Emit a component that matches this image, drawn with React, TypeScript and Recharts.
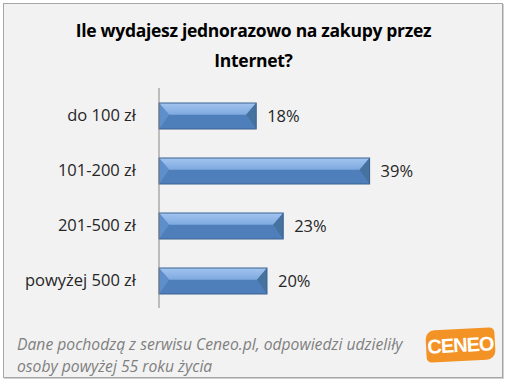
import { BarChart, Bar, XAxis, YAxis, LabelList } from "recharts";

const categories = ["do 100 zł", "101-200 zł", "201-500 zł", "powyżej 500 zł"];
const shares = [18, 39, 23, 20];

const title = ["Ile wydajesz jednorazowo na zakupy przez", "Internet?"];
const note = [
  "Dane pochodzą z serwisu Ceneo.pl, odpowiedzi udzieliły",
  "osoby powyżej 55 roku życia",
];

const data = categories.map((name, i) => ({ name, value: shares[i] }));

const FONT = "'Open Sans', 'DejaVu Sans', sans-serif";

// bevelled bar like the Excel original
function BevelBar(props: any) {
  const { x, y, width, height } = props;
  if (!width || width <= 0) return null;
  const b = Math.min(10, width / 2);
  const mid = y + height * 0.45;
  return (
    <g>
      <rect x={x} y={y} width={width} height={height} fill="#4f7fbb" />
      <polygon
        points={`${x},${y} ${x + width},${y} ${x + width - b},${mid} ${x + b},${mid}`}
        fill="url(#barTop)"
      />
      <polygon points={`${x},${y} ${x + b},${mid} ${x},${y + height}`} fill="#5f8fcb" />
      <polygon
        points={`${x + width},${y} ${x + width - b},${mid} ${x + width},${y + height}`}
        fill="#46729f"
      />
      <rect
        x={x}
        y={y}
        width={width}
        height={height}
        fill="none"
        stroke="#3a6292"
        strokeWidth={1}
      />
    </g>
  );
}

export default function App() {
  return (
    <div style={{ position: "fixed", left: 0, top: 0, width: 507, height: 382, background: "#ffffff" }}>
      {/* frame */}
      <div
        style={{
          position: "absolute",
          left: 3,
          top: 3,
          width: 498,
          height: 373,
          background: "#f2f2f2",
          border: "1px solid #a6a6a6",
          boxShadow: "1px 1px 0 #d0d0d0",
        }}
      />
      {/* title */}
      <div
        style={{
          position: "absolute",
          left: 0,
          top: 15,
          width: 507,
          textAlign: "center",
          fontFamily: FONT,
          fontWeight: 700,
          fontSize: 17.5,
          lineHeight: "30px",
          letterSpacing: -0.3,
          color: "#000000",
        }}
      >
        {title.map((t) => (
          <div key={t}>{t}</div>
        ))}
      </div>

      <div style={{ position: "absolute", left: 0, top: 0 }}>
        <BarChart
          width={507}
          height={382}
          data={data}
          layout="vertical"
          margin={{ top: 88, right: 132, bottom: 74, left: 0 }}
          barSize={26}
        >
          <defs>
            <linearGradient id="barTop" x1="0" y1="0" x2="0" y2="1">
              <stop offset="0%" stopColor="#a3c5f0" />
              <stop offset="100%" stopColor="#7ea9df" />
            </linearGradient>
          </defs>
          <XAxis type="number" domain={[0, 40]} hide />
          <YAxis
            type="category"
            dataKey="name"
            width={159}
            tickLine={false}
            tickMargin={17}
            axisLine={{ stroke: "#868686" }}
            tick={{ fontSize: 16.5, fill: "#262626", fontFamily: FONT }}
          />
          <Bar dataKey="value" shape={<BevelBar />} isAnimationActive={false}>
            <LabelList
              dataKey="value"
              position="right"
              offset={11}
              formatter={(v: any) => `${v}%`}
              style={{ fontSize: 16.5, fill: "#262626", fontFamily: FONT }}
            />
          </Bar>
        </BarChart>
      </div>

      {/* footnote */}
      <div
        style={{
          position: "absolute",
          left: 17,
          top: 333,
          fontFamily: FONT,
          fontStyle: "italic",
          fontSize: 15.7,
          lineHeight: "22px",
          color: "#7f7f7f",
        }}
      >
        {note.map((t) => (
          <div key={t}>{t}</div>
        ))}
      </div>

      {/* logo */}
      <div
        style={{
          position: "absolute",
          left: 426,
          top: 329,
          width: 69,
          height: 32,
          background: "#f39325",
          borderRadius: "9px 5px 9px 5px",
          transform: "rotate(-3deg)",
          color: "#ffffff",
          fontFamily: "'Liberation Sans', sans-serif",
          fontWeight: 700,
          fontSize: 20,
          lineHeight: "32px",
          textAlign: "center",
          letterSpacing: -1,
        }}
      >
        CENEO
      </div>
    </div>
  );
}
